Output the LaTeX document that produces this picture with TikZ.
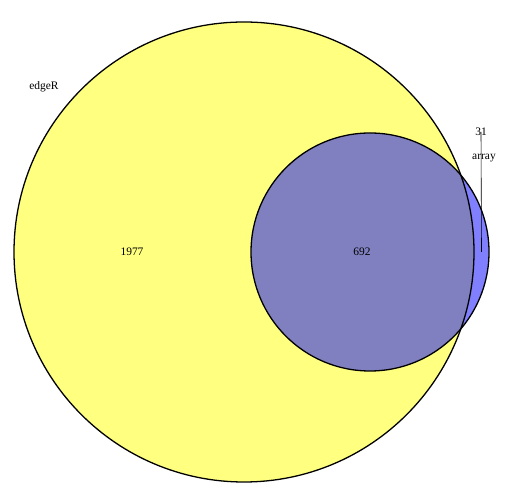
\documentclass[tikz,border=0pt]{standalone}
\usepackage{fontspec}
\setmainfont{Liberation Serif}
\usepackage{xcolor}
\usepackage{tikz}
\usetikzlibrary{positioning}
\definecolor{setyellow}{HTML}{FFFF80}
\definecolor{setblue}{HTML}{8080FF}
\definecolor{setboth}{HTML}{8080C0}
\tikzset{
  setline/.style={black, line width=1.3pt},
  countlabel/.style={font=\fontsize{11.5}{13}\selectfont, inner sep=1pt},
  leaderline/.style={black, line width=0.6pt}
}

\begin{document}
\begin{tikzpicture}[x=1bp, y=1bp]
  \useasboundingbox (0,0) rectangle (504,504);
  \fill[setyellow] (244,252) circle (230);
  \fill[setblue] (370,252) circle (119);
  \begin{scope}
    \clip (244,252) circle (230);
    \fill[setboth] (370,252) circle (119);
  \end{scope}
  \draw[setline] (244,252) circle (230);
  \draw[setline] (370,252) circle (119);
  \node[countlabel] (nameedger) at (44,417) {edgeR};
  \node[countlabel] (nleft) at (132,252) {1977};
  \node[countlabel] (nboth) at (362,252) {692};
  \node[countlabel] (nright) at (481,372) {31};
  \node[countlabel] (namearray) at (484,346) {array};
  \coordinate (tipright) at (481.5,252);
  \draw[leaderline] (nright.center) -- (tipright);
\end{tikzpicture}
\end{document}
